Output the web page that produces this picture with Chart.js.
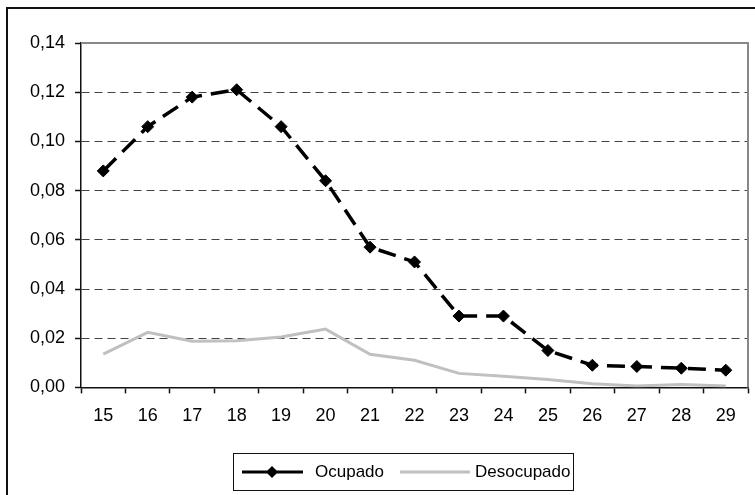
<!DOCTYPE html>
<html>
<head>
<meta charset="utf-8">
<script src="https://cdn.jsdelivr.net/npm/chart.js@4.4.0/dist/chart.umd.min.js"></script>
<style>
  html, body { margin: 0; padding: 0; background: #fff; }
  #wrap { position: relative; width: 755px; height: 495px; }
</style>
</head>
<body>
<div id="wrap"><canvas id="chart" width="755" height="495"></canvas></div>
<script>
const edades = ["15", "16", "17", "18", "19", "20", "21", "22", "23", "24", "25", "26", "27", "28", "29"];
const ocupado = [0.088, 0.106, 0.118, 0.121, 0.106, 0.084, 0.057, 0.051, 0.029, 0.029, 0.015, 0.009, 0.0085, 0.0078, 0.007];
const desocupado = [0.0135, 0.0224, 0.0188, 0.019, 0.0205, 0.0237, 0.0135, 0.011, 0.0057, 0.0045, 0.0032, 0.0015, 0.0006, 0.0012, 0.0006];

const frame = {
    id: "frame",
    beforeDraw(chart) {
        const ctx = chart.ctx;
        ctx.save();
        ctx.fillStyle = "#fff";
        ctx.fillRect(0, 0, chart.width, chart.height);
        ctx.strokeStyle = "#111";
        ctx.lineWidth = 2;
        ctx.beginPath();
        ctx.moveTo(7, 500);
        ctx.lineTo(7, 8);
        ctx.lineTo(760, 8);
        ctx.stroke();
        ctx.restore();
    },
    beforeDatasetsDraw(chart) {
        const a = chart.chartArea;
        const ctx = chart.ctx;
        ctx.save();
        ctx.strokeStyle = "#888";
        ctx.lineWidth = 2;
        ctx.beginPath();
        ctx.moveTo(a.left, a.top);
        ctx.lineTo(a.right, a.top);
        ctx.lineTo(a.right, a.bottom);
        ctx.stroke();
        ctx.restore();
    },
    afterDraw(chart) {
        // leyenda
        const ctx = chart.ctx;
        const ds = chart.data.datasets;
        ctx.save();
        ctx.strokeStyle = "#111";
        ctx.lineWidth = 1;
        ctx.strokeRect(233.5, 453.5, 340, 37);
        const y = 472;
        ctx.font = "17px 'Liberation Sans', Arial, sans-serif";
        ctx.textBaseline = "middle";
        ctx.fillStyle = "#000";

        ctx.strokeStyle = "#000";
        ctx.lineWidth = 3;
        ctx.beginPath();
        ctx.moveTo(242, y);
        ctx.lineTo(303, y);
        ctx.stroke();
        ctx.beginPath();
        ctx.moveTo(272, y - 6);
        ctx.lineTo(278, y);
        ctx.lineTo(272, y + 6);
        ctx.lineTo(266, y);
        ctx.closePath();
        ctx.fill();
        ctx.fillText(ds[0].label, 315, y);

        ctx.strokeStyle = "#c0c0c0";
        ctx.beginPath();
        ctx.moveTo(400, y);
        ctx.lineTo(470, y);
        ctx.stroke();
        ctx.fillText(ds[1].label, 475, y);
        ctx.restore();
    }
};

const ctx = document.getElementById("chart");
new Chart(ctx, {
    type: "line",
    data: {
        labels: edades,
        datasets: [
            {
                label: "Ocupado",
                data: ocupado,
                borderColor: "#000",
                backgroundColor: "#000",
                borderWidth: 3.5,
                borderDash: [18, 9],
                pointStyle: "rectRot",
                pointRadius: 6,
                pointBorderWidth: 1,
                tension: 0,
                order: 1
            },
            {
                label: "Desocupado",
                data: desocupado,
                borderColor: "#c0c0c0",
                backgroundColor: "#c0c0c0",
                borderWidth: 3,
                pointRadius: 0,
                tension: 0,
                order: 2
            }
        ]
    },
    options: {
        responsive: false,
        animation: false,
        layout: {
            padding: {left: 20, right: 5, top: 43, bottom: 56}
        },
        plugins: {
            legend: {display: false},
            tooltip: {enabled: false}
        },
        scales: {
            x: {
                offset: true,
                grid: {
                    offset: true,
                    drawOnChartArea: false,
                    drawTicks: true,
                    tickLength: 6,
                    tickColor: "#111",
                    tickWidth: 1.5
                },
                border: {display: true, color: "#111", width: 1.5},
                ticks: {
                    color: "#000",
                    padding: 12,
                    maxRotation: 0,
                    font: {family: "'Liberation Sans', Arial, sans-serif", size: 18}
                }
            },
            y: {
                min: 0,
                max: 0.14,
                grid: {
                    color: (c) => c.tick && c.tick.value > 0 && c.tick.value < 0.139 ? "#444" : "rgba(0,0,0,0)",
                    lineWidth: 1,
                    drawTicks: true,
                    tickLength: 6,
                    tickColor: "#111",
                    tickWidth: 1.5
                },
                border: {display: true, color: "#111", width: 1.5, dash: [8, 5]},
                ticks: {
                    stepSize: 0.02,
                    color: "#000",
                    padding: 10,
                    font: {family: "'Liberation Sans', Arial, sans-serif", size: 18},
                    callback: (v) => Number(v).toFixed(2).replace(".", ",")
                }
            }
        }
    },
    plugins: [frame]
});
</script>
</body>
</html>
